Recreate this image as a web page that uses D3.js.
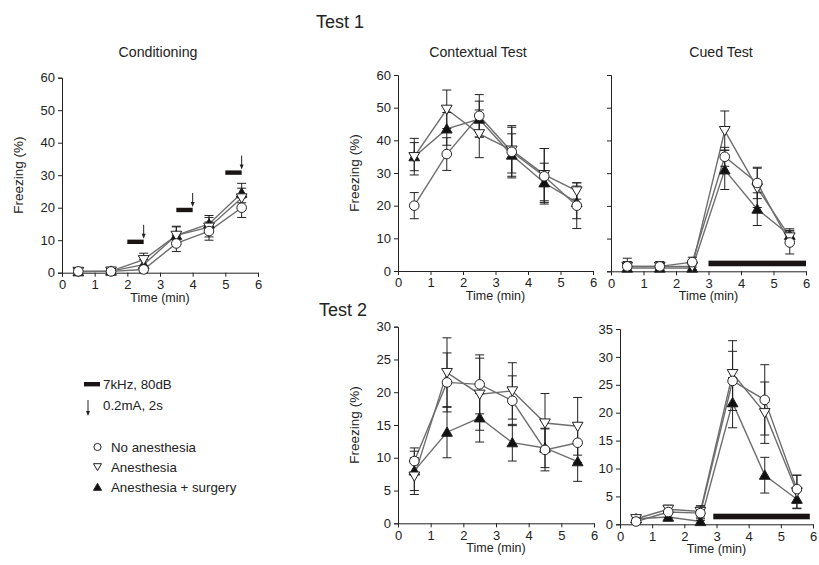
<!DOCTYPE html>
<html>
<head>
<meta charset="utf-8">
<script src="https://cdn.jsdelivr.net/npm/d3@7"></script>
<style>
  body { margin: 0; background: #fff; }
  svg text { font-family: "Liberation Sans", Arial, sans-serif; fill: #222; }
</style>
</head>
<body>
<svg id="chart" width="819" height="565"></svg>
<script>
const times = [0.5, 1.5, 2.5, 3.5, 4.5, 5.5];
const xTicks = [0, 1, 2, 3, 4, 5, 6];

// Conditioning
const condNo = [0.4, 0.4, 1.0, 9.0, 12.8, 20.0];
const condNoErr = [1.2, 0.5, 1.0, 2.5, 2.8, 3.0];
const condAn = [0.4, 0.5, 4.0, 11.5, 14.0, 23.0];
const condAnErr = [1.0, 0.5, 2.0, 2.6, 3.0, 3.0];
const condSu = [0.3, 0.5, 2.5, 11.5, 15.0, 24.5];
const condSuErr = [0.8, 0.5, 1.5, 2.8, 2.6, 3.0];
const toneStart = [2, 3.5, 5];
const toneLevel = [9.5, 19.3, 30.8];
const shockTime = [2.5, 4, 5.5];

// Test 1 contextual
const ctx1No = [20.0, 35.8, 47.5, 36.5, 29.0, 20.0];
const ctx1NoErr = [4.0, 5.0, 6.5, 8.0, 8.5, 7.0];
const ctx1An = [35.0, 49.5, 42.0, 37.0, 29.5, 24.5];
const ctx1AnErr = [5.6, 5.9, 7.3, 7.0, 8.0, 2.5];
const ctx1Su = [35.0, 43.5, 46.5, 35.5, 27.0, 21.0];
const ctx1SuErr = [4.3, 5.0, 5.5, 6.5, 6.0, 5.0];

// Test 1 cued
const cue1No = [1.5, 1.5, 2.8, 35.0, 27.0, 8.8];
const cue1NoErr = [2.5, 1.5, 1.5, 2.9, 4.8, 3.5];
const cue1An = [1.5, 1.5, 1.5, 43.0, 25.5, 10.5];
const cue1AnErr = [1.5, 1.0, 1.0, 6.0, 6.0, 2.0];
const cue1Su = [1.0, 1.0, 1.0, 31.0, 19.0, 11.0];
const cue1SuErr = [1.0, 1.0, 1.0, 6.0, 5.0, 2.0];
const cue1Tone = [3, 6, 2.4];

// Test 2 contextual
const ctx2No = [9.5, 21.5, 21.2, 18.7, 11.2, 12.3];
const ctx2NoErr = [2.0, 4.5, 4.5, 3.8, 3.2, 3.0];
const ctx2An = [7.2, 23.0, 19.7, 20.2, 15.3, 14.8];
const ctx2AnErr = [2.8, 5.3, 5.5, 4.3, 4.5, 4.4];
const ctx2Su = [8.0, 13.9, 16.1, 12.3, 11.5, 9.4];
const ctx2SuErr = [3.0, 3.9, 3.7, 2.8, 3.0, 3.0];

// Test 2 cued
const cue2No = [0.5, 2.2, 2.0, 25.7, 22.3, 6.3];
const cue2NoErr = [0.5, 1.0, 1.3, 5.3, 6.3, 2.5];
const cue2An = [1.0, 2.7, 2.3, 27.0, 20.0, 5.8];
const cue2AnErr = [0.5, 0.7, 1.0, 5.9, 5.5, 3.0];
const cue2Su = [1.0, 1.3, 0.5, 21.8, 8.8, 4.5];
const cue2SuErr = [0.5, 0.7, 0.5, 4.5, 3.2, 1.6];
const cue2Tone = [2.9, 5.9, 1.4];

const svg = d3.select("#chart");
svg.append("rect").attr("width", 819).attr("height", 565).attr("fill", "#fff");

const panels = [
  { x: [62, 258], y: [272.7, 77.7], max: 60, step: 10, title: "Conditioning", titleX: 158, yLab: 18, labels: true,
    series: [[condSu, condSuErr], [condAn, condAnErr], [condNo, condNoErr]], cond: true },
  { x: [398, 593], y: [271, 75], max: 60, step: 10, title: "Contextual Test", titleX: 478, yLab: 354, labels: true,
    series: [[ctx1Su, ctx1SuErr], [ctx1An, ctx1AnErr], [ctx1No, ctx1NoErr]] },
  { x: [611, 806], y: [271.3, 75], max: 60, step: 10, title: "Cued Test", titleX: 721, labels: false,
    series: [[cue1Su, cue1SuErr], [cue1An, cue1AnErr], [cue1No, cue1NoErr]], tone: cue1Tone },
  { x: [398, 594], y: [523.3, 326.7], max: 30, step: 5, yLab: 354, labels: true,
    series: [[ctx2Su, ctx2SuErr], [ctx2An, ctx2AnErr], [ctx2No, ctx2NoErr]] },
  { x: [620, 813], y: [524.3, 329], max: 35, step: 5, labels: true,
    series: [[cue2Su, cue2SuErr], [cue2An, cue2AnErr], [cue2No, cue2NoErr]], tone: cue2Tone }
];

// marker kinds: 0 = surgery (filled up), 1 = anesthesia (open down), 2 = none (open circle)
function drawMarker(g, kind, cx, cy, scale) {
  const s = scale || 1;
  if (kind === 2) {
    g.append("circle").attr("cx", cx).attr("cy", cy).attr("r", 4.8 * s)
      .attr("fill", "#fff").attr("stroke", "#222").attr("stroke-width", 1);
  } else {
    const sym = d3.symbol().type(d3.symbolTriangle).size(50 * s * s);
    g.append("path").attr("d", sym())
      .attr("transform", `translate(${cx},${cy + (kind === 1 ? -1 : 1)}) rotate(${kind === 1 ? 180 : 0})`)
      .attr("fill", kind === 0 ? "#111" : "#fff")
      .attr("stroke", "#222").attr("stroke-width", 1);
  }
}

panels.forEach(p => {
  const g = svg.append("g");
  const x = d3.scaleLinear().domain([0, 6]).range(p.x);
  const y = d3.scaleLinear().domain([0, p.max]).range(p.y);

  const yAxis = d3.axisLeft(y).tickValues(d3.range(0, p.max + 0.1, p.step))
    .tickSize(4).tickPadding(3).tickFormat(d3.format("d"));
  if (!p.labels) yAxis.tickFormat("");
  g.append("g").attr("transform", `translate(${p.x[0]},0)`).call(yAxis);
  g.append("g").attr("transform", `translate(0,${p.y[0]})`)
    .call(d3.axisBottom(x).tickValues(xTicks).tickSize(4).tickPadding(3).tickFormat(d3.format("d")));
  g.selectAll(".domain").attr("stroke", "#222");
  g.selectAll(".tick line").attr("stroke", "#222");
  g.selectAll(".tick text").attr("font-size", 13).attr("fill", "#222")
    .attr("font-family", "'Liberation Sans', Arial, sans-serif");

  g.append("text").attr("x", (p.x[0] + p.x[1]) / 2).attr("y", p.y[0] + 29)
    .attr("text-anchor", "middle").attr("font-size", 12.5).text("Time (min)");
  if (p.yLab) {
    g.append("text").attr("transform", `translate(${p.yLab},${(p.y[0] + p.y[1]) / 2}) rotate(-90)`)
      .attr("text-anchor", "middle").attr("dy", "0.35em").attr("font-size", 13.5).text("Freezing (%)");
  }
  if (p.title) {
    g.append("text").attr("x", p.titleX).attr("y", 57).attr("text-anchor", "middle")
      .attr("font-size", 14.2).text(p.title);
  }

  if (p.tone) {
    g.append("rect").attr("x", x(p.tone[0])).attr("width", x(p.tone[1]) - x(p.tone[0]))
      .attr("y", y(p.tone[2]) - 2.8).attr("height", 5.6).attr("fill", "#1a1414");
  }
  if (p.cond) {
    toneStart.forEach((t, i) => {
      g.append("rect").attr("x", x(t)).attr("width", x(t + 0.5) - x(t))
        .attr("y", y(toneLevel[i]) - 2.2).attr("height", 4.4).attr("fill", "#1a1414");
      const ax = x(shockTime[i]);
      const top = y(toneLevel[i]) - 17, bot = y(toneLevel[i]) - 3;
      g.append("line").attr("x1", ax).attr("x2", ax).attr("y1", top).attr("y2", bot - 3)
        .attr("stroke", "#222").attr("stroke-width", 1);
      g.append("path").attr("d", `M${ax - 2},${bot - 5}L${ax + 2},${bot - 5}L${ax},${bot}Z`).attr("fill", "#222");
    });
  }

  const line = d3.line().x((d, i) => x(times[i])).y(d => y(d));
  p.series.forEach(s => {
    g.append("path").attr("d", line(s[0])).attr("fill", "none")
      .attr("stroke", "#6e6e6e").attr("stroke-width", 1.4);
  });
  p.series.forEach(s => {
    s[0].forEach((v, i) => {
      const cx = x(times[i]);
      const lo = y(Math.max(0, v - s[1][i])), hi = y(v + s[1][i]);
      g.append("line").attr("x1", cx).attr("x2", cx).attr("y1", lo).attr("y2", hi).attr("stroke", "#222");
      [lo, hi].forEach(yy => g.append("line").attr("x1", cx - 4.5).attr("x2", cx + 4.5)
        .attr("y1", yy).attr("y2", yy).attr("stroke", "#222"));
    });
  });
  p.series.forEach((s, k) => {
    s[0].forEach((v, i) => drawMarker(g, k, x(times[i]), y(v)));
  });
});

// section headings
svg.append("text").attr("x", 316).attr("y", 28).attr("font-size", 18)
  .attr("font-family", "'Open Sans', sans-serif").attr("fill", "#333").text("Test 1");
svg.append("text").attr("x", 319).attr("y", 316).attr("font-size", 18)
  .attr("font-family", "'Open Sans', sans-serif").attr("fill", "#333").text("Test 2");

// legend
const lg = svg.append("g");
lg.append("rect").attr("x", 84).attr("y", 382).attr("width", 16).attr("height", 4.4).attr("fill", "#1a1414");
lg.append("text").attr("x", 103).attr("y", 389).attr("font-size", 13.3).text("7kHz, 80dB");
lg.append("line").attr("x1", 88).attr("x2", 88).attr("y1", 400).attr("y2", 412).attr("stroke", "#222");
lg.append("path").attr("d", "M86,411L90,411L88,416Z").attr("fill", "#222");
lg.append("text").attr("x", 103).attr("y", 410).attr("font-size", 13.3).text("0.2mA, 2s");
const legendItems = ["No anesthesia", "Anesthesia", "Anesthesia + surgery"];
const legendKinds = [2, 1, 0];
legendItems.forEach((t, i) => {
  const cy = 447 + i * 20;
  drawMarker(lg, legendKinds[i], 97.5, cy, 0.75);
  lg.append("text").attr("x", 111).attr("y", cy + 5).attr("font-size", 13.3).text(t);
});
</script>
</body>
</html>
